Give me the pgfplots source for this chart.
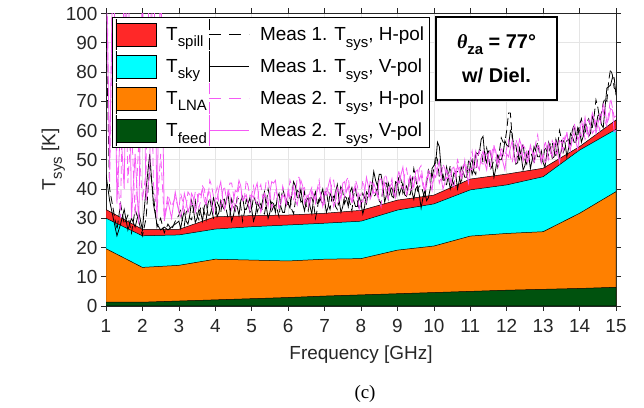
\documentclass[border=0pt]{standalone}
\usepackage{pgfplots}
\pgfplotsset{compat=1.18}
\usepackage{pgfplotstable}
\usepackage{fontspec}
\setmainfont{Liberation Sans}
\newfontfamily\serifcap{Liberation Serif}
\definecolor{cspill}{RGB}{255,40,40}
\definecolor{csky}{RGB}{0,255,255}
\definecolor{clna}{RGB}{255,128,0}
\definecolor{cfeed}{RGB}{0,82,14}
\definecolor{cmag}{RGB}{245,90,245}
\definecolor{caxis}{RGB}{38,38,38}
\newcommand{\sub}[1]{\raisebox{-6.5bp}{\fontsize{15}{15}\selectfont #1}}
\pgfplotsset{
  mypatchleg/.style={legend image code/.code={\path (0bp,-15.5bp) -- (0bp,15.5bp);\draw[##1] (0bp,-11.5bp) rectangle (40bp,11.5bp);}},
  mylineleg/.style={legend image code/.code={\path (0bp,-15.5bp) -- (0bp,15.5bp);\draw[##1] (0bp,0bp) -- (40bp,0bp);}},
}
\pgfplotstableread{
f feed lna sky spill
1 1.3 19.6 30.0 33.0
2 1.3 13.2 24.0 26.2
3 1.7 13.9 24.3 26.2
4 2.1 16.0 26.3 30.5
5 2.5 15.7 27.1 30.9
6 2.9 15.4 27.7 31.1
7 3.4 16.0 28.3 31.7
8 3.8 16.2 29.0 32.7
9 4.2 19.1 32.8 36.2
10 4.6 20.5 34.9 37.9
11 5.0 23.9 39.7 43.4
12 5.4 24.8 41.4 45.1
13 5.7 25.4 44.2 47.1
14 6.0 31.7 53.3 54.5
15 6.4 39.1 60.4 63.6
}\stack
\pgfplotstableread{
f m1h m1v m2h m2v
1.0 95 45 140 120
1.1 40 36 42 48
1.2 33 30 125 130
1.3 26 24 48 35
1.4 35 28 30 62
1.5 28 33 118 40
1.6 31 26 42 128
1.7 25 30 62 30
1.8 33 27 31 52
1.9 29 32 56 28
2.0 24 26 36 112
2.1 30 40 46 36
2.2 48 52 128 45
2.3 38 35 42 132
2.4 27 28 32 30
2.5 30 26 52 118
2.6 25 27 30 29
2.7 28 26 38 36
2.8 26 27 34 30
2.9 29 28 37 39
3.0 31 29 33 32
3.05 33 26.5 38.5 30.5
3.1 29 30 36 33
3.15 27.5 32.5 32 38.5
3.2 32 29 34 36
3.25 33 28 39 32
3.3 30 31 38 34
3.35 29.5 36 34.5 38.5
3.4 33 33 35 37
3.45 36 28.5 39 32
3.5 31 30 39 35
3.55 29.5 33 33.5 38.5
3.6 34 32 36 38
3.65 34 29 41 40
3.7 32 34 40 36
3.75 29.5 35.5 35.5 34.5
3.8 35 31 37 39
3.85 37 31 43 39
3.9 33 33 41 35
3.95 30 37 37.5 32
4.0 31 35 38 37
4.05 35.5 30.5 40.5 36.5
4.1 34 32 35 40
4.15 32 36 34 42.5
4.2 36 34 39 37
4.25 36.5 33 41 33
4.3 33 36 37 35
4.35 30 38.5 37.5 39.5
4.4 31 33 42 38
4.45 36.5 29 42 33
4.5 34 31 38 36
4.55 32.5 34.5 33 39.5
4.6 37 34 36 39
4.65 36.5 31 41 43
4.7 34 36 40 41
4.75 29 37.5 35.5 36
4.8 32 33 37 37
4.85 36.5 33 43 38
4.9 35 35 41 35
4.95 32 37 37.5 32.5
5.0 33 33 38 38
5.05 37.5 29 41 37
5.1 36 31 36 40
5.15 32 35.5 35 42
5.2 34 34 40 36
5.25 35 33 41.5 32
5.3 32 36 37 34
5.35 31.5 39 38 38.5
5.4 35 34 43 37
5.45 40 30 43 34
5.5 37 32 39 39
5.55 32.5 35.5 33.5 42.5
5.6 34 35 36 42
5.65 34.5 32 40 43
5.7 33 37 38 38
5.75 30.5 38.5 33.5 33.5
5.8 36 34 35 35
5.85 40 32 41 38
5.9 38 32 39 37
5.95 34.5 36.5 36 34.5
6.0 35 35 37 40
6.05 37 33.5 43 37
6.1 33 38 41 38
6.15 31.5 42.5 36.5 41
6.2 36 41 38 36
6.25 39.5 37 44 34.5
6.3 39 37 44 39
6.35 35.5 40 40 43
6.4 36 35 40 41
6.45 39 32.5 40.5 35
6.5 34 36 37 37
6.55 32.5 37 34 38
6.6 37 34 39 35
6.65 37 31.5 40.5 39.5
6.7 35 37 36 38
6.75 30 39 35 36
6.8 33 35 40 40
6.85 37.5 35.5 43 40.5
6.9 36 38 38 37
6.95 35 40 34.5 34
7.0 38 36 35 39
7.05 39.5 32 41 38
7.1 35 34 39 41
7.15 33 38.5 37.5 43.5
7.2 37 37 42 38
7.25 37.5 36 43 34
7.3 34 39 38 36
7.35 33 41.5 35 40.5
7.4 36 36 36 39
7.45 41.5 32 40 36.5
7.5 39 34 40 42
7.55 35 37.5 37.5 42.5
7.6 37 37 43 39
7.65 37 34 44 41
7.7 35 39 39 37
7.75 32.5 40.5 35 35.5
7.8 38 36 37 40
7.85 40 34 43 41
7.9 36 34 41 38
7.95 33 37.5 37.5 33
8.0 34 35 38 36
8.05 38.5 31.5 43 35.5
8.1 37 34 40 39
8.15 35 39 35.5 44
8.2 39 38 37 41
8.25 42 37.5 42.5 36.5
8.3 41 41 42 38
8.35 37.5 46 38.5 42
8.4 38 43 39 40
8.45 41 41 39.5 37.5
8.5 36 45 36 43
8.55 35 45 34 43.5
8.6 40 41 40 40
8.65 42 35.5 45 42
8.7 42 38 44 38
8.75 36.5 42 39.5 36.5
8.8 39 40 41 41
8.85 41 37.5 43.5 42
8.9 37 37 38 39
8.95 37 42.5 39 37
9.0 41 42 44 43
9.05 45 38 46.5 42
9.1 43 40 41 45
9.15 38.5 42 40 47.5
9.2 40 38 45 42
9.25 41 37.5 47 38
9.3 38 41 43 40
9.35 38 44 39.5 44.5
9.4 42 39 40 43
9.45 47 36.5 44 40.5
9.5 44 40 44 46
9.55 39.5 41 41.5 46.5
9.6 41 38 47 43
9.65 41 33.5 48 45
9.7 39 37 43 41
9.75 36.5 39.5 39 39.5
9.8 42 36 41 44
9.85 46.5 37 47 45
9.9 45 40 45 42
9.95 44 47 42 39.5
10.0 47 48 43 45
10.05 51.5 49 48.5 44
10.1 50 56 46 47
10.15 44 54.5 42 49.5
10.2 44 47 44 44
10.25 45 43 48.5 40
10.3 42 43 47 42
10.35 41.5 47.5 43.5 46.5
10.4 45 44 44 45
10.45 48 40 45 42
10.5 43 42 42 47
10.55 41.5 45.5 40 47.5
10.6 46 45 46 44
10.65 46 40 50 48
10.7 44 43 48 46
10.75 41.5 47.5 43.5 44
10.8 47 46 45 48
10.85 49 44 50 48.5
10.9 45 44 47 45
10.95 44.5 49.5 46.5 42
11.0 48 49 50 47
11.05 50 45 53 46.5
11.1 46 47 48 50
11.15 45 52.5 46.5 53
11.2 50 52 51 48
11.25 53.5 52.5 53 46.5
11.3 53 57 49 51
11.35 49 58 48.5 53
11.4 49 51 52 49
11.45 54 49 53 46.5
11.5 51 53 50 52
11.55 46.5 53 47.5 53
11.6 48 49 53 50
11.65 50 44 55 54.5
11.7 50 47 51 53
11.75 47.5 51.5 47 49
11.8 53 50 49 51
11.85 57.5 50 54.5 52
11.9 56 52 52 49
11.95 56 56.5 51 46.5
12.0 60 55 54 52
12.05 66 54.5 56.5 51
12.1 66 60 51 54
12.15 57.5 59 49 56.5
12.2 55 52 53 51
12.25 55 48.5 57 49
12.3 51 49 55 53
12.35 50 54 51.5 57
12.4 53 51 52 55
12.45 55.5 46.5 55 49.5
12.5 50 48 54 52
12.55 48.5 52 48.5 53
12.6 53 52 51 50
12.65 53 47 55 54.5
12.7 51 50 53 53
12.75 48.5 54.5 51.5 49
12.8 54 53 56 51
12.85 56 51 58.5 54.5
12.9 52 51 53 54
12.95 49 53 50 49
13.0 50 49 51 52
13.05 54.5 47.5 56.5 49
13.1 53 52 54 50
13.15 51.5 56 50 55.5
13.2 56 54 52 53
13.25 56 50.5 56.5 51
13.3 52 51 55 55
13.35 51.5 57 52 56.5
13.4 55 55 53 52
13.45 60 51 56.5 49
13.5 57 53 56 54
13.55 52.5 56.5 53 57.5
13.6 54 56 58 57
13.65 56.5 51 59.5 59
13.7 57 54 55 55
13.75 54.5 59 53 53.5
13.8 60 58 57 58
13.85 62 56 62.5 59
13.9 58 56 60 56
13.95 58 61 57 53.5
14.0 62 60 58 59
14.05 64 56 63.5 58
14.1 60 58 61 61
14.15 58.5 62.5 57 64.5
14.2 63 61 59 60
14.25 64 58 63.5 58
14.3 61 59 62 62
14.35 61 65 59 66
14.4 65 63 60 64
14.45 70.5 61 63.5 59
14.5 68 65 63 62
14.55 64 65.5 60 65.5
14.6 66 62 65 65
14.65 69.5 61 67 69
14.7 71 68 63 67
14.75 70 74.5 61.5 62.5
14.8 77 75 66 64
14.85 81 75.5 71 67.5
14.9 79 78 68 67
14.95 74.5 78 64.5 59.5
15.0 74 72 65 60
}\meas
\begin{document}
\begin{tikzpicture}
\path[use as bounding box] (0,0) rectangle (644bp,408bp);
\begin{axis}[
  at={(106bp,102bp)}, anchor=south west,
  scale only axis, width=510bp, height=292.5bp,
  xmin=1, xmax=15, ymin=0, ymax=100,
  xtick={1,...,15}, ytick={0,10,...,100},
  tick align=outside, major tick length=5bp,
  grid=major, major grid style={draw=black!10, line width=0.6pt},
  axis line style={caxis, line width=0.6pt},
  tick style={caxis, line width=0.6pt},
  ticklabel style={font=\fontsize{19}{22}\selectfont, text=caxis},
  xticklabel style={yshift=-5bp},
  /pgf/number format/assume math mode=true,
  xlabel={Frequency [GHz]}, ylabel={T\sub{sys} [K]},
  label style={font=\fontsize{19}{22}\selectfont, text=caxis},
  xlabel style={yshift=-6bp},
  ylabel style={yshift=-6bp},
  legend columns=2,
  legend cell align=left,
  legend style={at={(0.012,0.988)}, anchor=north west, draw=black, line width=1pt, fill=white,
    font=\fontsize{19}{22}\selectfont, inner xsep=3bp, inner ysep=1bp, row sep=0bp,
    /tikz/every odd column/.append style={column sep=8bp}},
]
\addlegendimage{mypatchleg, fill=cspill, draw=black, line width=0.6pt}
\addlegendentry{T\sub{spill}}
\addlegendimage{mylineleg, black, line width=1pt, dash pattern=on 12bp off 8bp}
\addlegendentry{Meas 1. T\sub{sys}, H-pol}
\addlegendimage{mypatchleg, fill=csky, draw=black, line width=0.6pt}
\addlegendentry{T\sub{sky}}
\addlegendimage{mylineleg, black, line width=1pt}
\addlegendentry{Meas 1. T\sub{sys}, V-pol}
\addlegendimage{mypatchleg, fill=clna, draw=black, line width=0.6pt}
\addlegendentry{T\sub{LNA}}
\addlegendimage{mylineleg, cmag, line width=1.2pt, dash pattern=on 12bp off 8bp}
\addlegendentry{Meas 2. T\sub{sys}, H-pol}
\addlegendimage{mypatchleg, fill=cfeed, draw=black, line width=0.6pt}
\addlegendentry{T\sub{feed}}
\addlegendimage{mylineleg, cmag, line width=1.2pt}
\addlegendentry{Meas 2. T\sub{sys}, V-pol}

\addplot[fill=cspill, draw=black, line width=0.5pt, forget plot] table[x=f,y=spill]{\stack} \closedcycle;
\addplot[fill=csky, draw=black, line width=0.5pt, forget plot] table[x=f,y=sky]{\stack} \closedcycle;
\addplot[fill=clna, draw=black, line width=0.5pt, forget plot] table[x=f,y=lna]{\stack} \closedcycle;
\addplot[fill=cfeed, draw=black, line width=0.5pt, forget plot] table[x=f,y=feed]{\stack} \closedcycle;

\addplot[black, line width=0.8pt, dash pattern=on 8bp off 4bp, forget plot] table[x=f,y=m1h]{\meas};
\addplot[black, line width=0.8pt, forget plot] table[x=f,y=m1v]{\meas};
\addplot[cmag, line width=0.8pt, dash pattern=on 8bp off 4bp, forget plot] table[x=f,y=m2h]{\meas};
\addplot[cmag, line width=0.8pt, forget plot] table[x=f,y=m2v]{\meas};

\node[draw=black, line width=1.6pt, fill=white, minimum width=121bp, minimum height=83bp,
  align=center, inner sep=0pt, font=\fontsize{20}{34}\selectfont\bfseries]
  at (axis cs:11.72,84.6) {{\serifcap\bfseries\itshape θ}\sub{za} = 77°\\w/ Diel.};
\end{axis}
\node[font=\serifcap\fontsize{19}{22}\selectfont] at (365bp,14bp) {(c)};
\end{tikzpicture}
\end{document}
